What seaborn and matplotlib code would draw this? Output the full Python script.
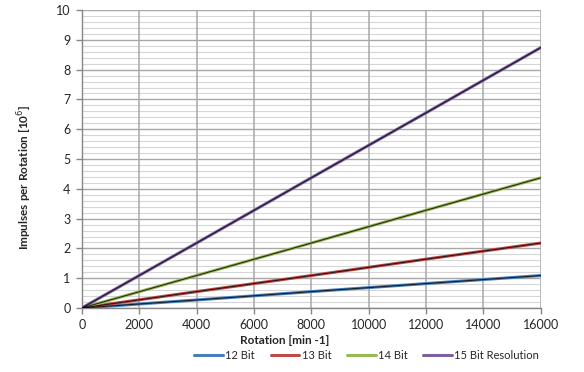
import matplotlib
matplotlib.use("Agg")
import matplotlib.pyplot as plt
from matplotlib.lines import Line2D
from matplotlib.ticker import MultipleLocator
import pandas as pd
import seaborn as sns

# values
rotation = [0, 4000, 8000, 12000, 16000]
bit12 = [0, 0.27, 0.55, 0.82, 1.09]
bit13 = [0, 0.55, 1.09, 1.64, 2.18]
bit14 = [0, 1.09, 2.18, 3.28, 4.37]
bit15 = [0, 2.18, 4.37, 6.55, 8.74]
labels = ["12 Bit", "13 Bit", "14 Bit", "15 Bit Resolution"]
colors = ["#4A7EBB", "#BE4B48", "#98B954", "#7D60A0"]

frames = []
for lab, vals in zip(labels, [bit12, bit13, bit14, bit15]):
    frames.append(pd.DataFrame({"rotation": rotation, "impulses": vals, "series": lab}))
df = pd.concat(frames, ignore_index=True)

sns.set_style("white")
plt.rcParams['font.family'] = ['Lato', 'DejaVu Sans']

fig = plt.figure(figsize=(5.84, 3.72), dpi=100)
ax = fig.add_axes([0.140, 0.172, 0.786, 0.801])

# coloured line with a thin dark core, like the original
sns.lineplot(data=df, x="rotation", y="impulses", hue="series", palette=colors,
             linewidth=2.2, ax=ax, legend=False, zorder=3)
for lab in labels:
    sub = df[df["series"] == lab]
    ax.plot(sub["rotation"], sub["impulses"], color="black", lw=0.8, alpha=0.75, zorder=4)

ax.set_xlim(0, 16000)
ax.set_ylim(0, 10)
ax.xaxis.set_major_locator(MultipleLocator(2000))
ax.yaxis.set_major_locator(MultipleLocator(1))
ax.yaxis.set_minor_locator(MultipleLocator(0.2))

ax.grid(which="minor", axis="y", color="#D6D6D6", lw=0.8)
ax.grid(which="major", axis="y", color="#A8A8A8", lw=1.0)
ax.grid(which="major", axis="x", color="#A8A8A8", lw=1.1)
# vertical grid above the light horizontal lines, both under the data
ax.set_axisbelow(False)
ax.yaxis.set_zorder(0.5)
ax.xaxis.set_zorder(1.0)

for s in ["top", "right"]:
    ax.spines[s].set_visible(False)
for s in ["left", "bottom"]:
    ax.spines[s].set_color("#868686")
    ax.spines[s].set_linewidth(1.0)

ax.tick_params(axis="both", which="major", direction="out", length=4, width=1,
               color="#868686", labelsize=9, pad=4, left=True, bottom=True)
ax.tick_params(axis="y", which="minor", length=0)

ax.set_xlabel("Rotation [min -1]", fontsize=8.5, fontweight="bold")
ax.xaxis.set_label_coords(0.442, -0.092)
ax.set_ylabel("Impulses per Rotation [10$^6$]", fontsize=8.5, fontweight="bold")
ax.yaxis.set_label_coords(-0.103, 0.44)

handles = [Line2D([0], [0], color=c, lw=2.2) for c in colors]
fig.legend(handles, labels, loc="center", bbox_to_anchor=(0.628, 0.044), ncol=4,
           frameon=False, fontsize=8, handlelength=2.6, handletextpad=0.2,
           columnspacing=1.4)

fig.savefig("out.png", dpi=100)
